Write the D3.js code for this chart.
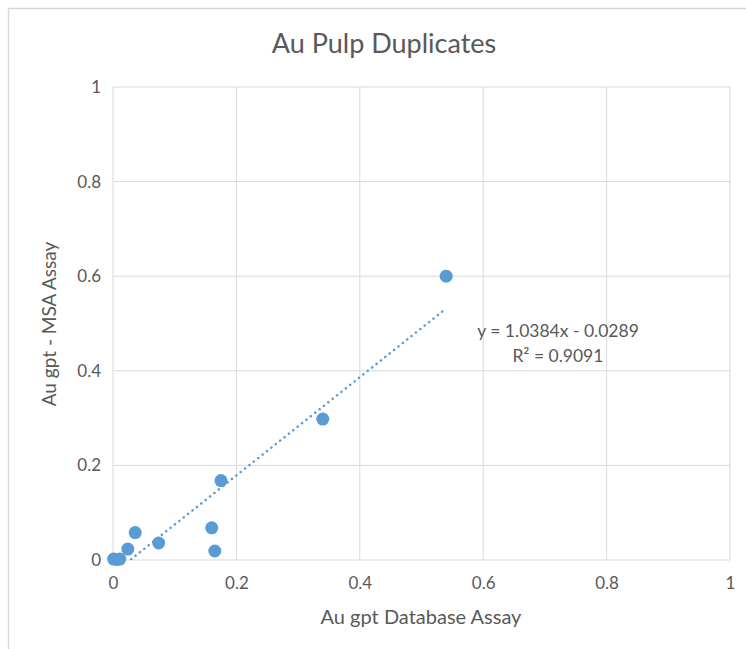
<!DOCTYPE html>
<html>
<head>
<meta charset="utf-8">
<script src="https://cdn.jsdelivr.net/npm/d3@7"></script>
<style>
  body { margin: 0; background: #fff; }
  text { font-family: Lato, "Open Sans", sans-serif; fill: #595959; }
</style>
</head>
<body>
<svg id="chart" width="746" height="649"></svg>
<script>
// sample pairs
const dbAssay  = [0.001, 0.006, 0.011, 0.024, 0.036, 0.074, 0.160, 0.165, 0.175, 0.340, 0.540];
const msaAssay = [0.002, 0.001, 0.002, 0.023, 0.058, 0.036, 0.068, 0.019, 0.168, 0.298, 0.600];
const ticks = [0, 0.2, 0.4, 0.6, 0.8, 1];
// linear trend shown on the chart
const slope = 1.0384, intercept = -0.0289;
const trendLabel = ['y = 1.0384x - 0.0289', 'R² = 0.9091'];

const points = dbAssay.map((d, i) => ({ x: d, y: msaAssay[i] }));

const svg = d3.select('#chart');
const plot = { left: 113, right: 730, top: 87, bottom: 560 };

// chart frame
svg.append('rect')
  .attr('x', 8.5).attr('y', 8.5)
  .attr('width', 760).attr('height', 660)
  .attr('fill', '#fff')
  .attr('stroke', '#d9d9d9').attr('stroke-width', 1.5);

const x = d3.scaleLinear().domain([0, 1]).range([plot.left, plot.right]);
const y = d3.scaleLinear().domain([0, 1]).range([plot.bottom, plot.top]);

// gridlines
const grid = svg.append('g').attr('stroke', '#d9d9d9').attr('stroke-width', 1);
ticks.forEach(t => {
  grid.append('line')
    .attr('x1', x(t)).attr('x2', x(t))
    .attr('y1', plot.top).attr('y2', plot.bottom);
  grid.append('line')
    .attr('x1', plot.left).attr('x2', plot.right)
    .attr('y1', y(t)).attr('y2', y(t));
});

// axes (labels only, Excel-style)
const xAxis = svg.append('g')
  .attr('transform', `translate(0,${plot.bottom})`)
  .call(d3.axisBottom(x).tickValues(ticks).tickSize(0).tickPadding(17).tickFormat(d3.format('~g')));
const yAxis = svg.append('g')
  .attr('transform', `translate(${plot.left},0)`)
  .call(d3.axisLeft(y).tickValues(ticks).tickSize(0).tickPadding(12).tickFormat(d3.format('~g')));
[xAxis, yAxis].forEach(a => {
  a.select('.domain').remove();
  a.selectAll('text').attr('font-size', 17).attr('fill', '#595959')
    .style('font-family', 'Lato, "Open Sans", sans-serif');
});

// trendline, clipped to the plot area
svg.append('clipPath').attr('id', 'clip')
  .append('rect')
  .attr('x', plot.left).attr('y', plot.top)
  .attr('width', plot.right - plot.left).attr('height', plot.bottom - plot.top);

const xMin = d3.min(dbAssay), xMax = d3.max(dbAssay);
svg.append('line')
  .attr('clip-path', 'url(#clip)')
  .attr('x1', x(xMin)).attr('y1', y(slope * xMin + intercept))
  .attr('x2', x(xMax)).attr('y2', y(slope * xMax + intercept))
  .attr('stroke', '#5b9bd5')
  .attr('stroke-width', 2.5)
  .attr('stroke-linecap', 'round')
  .attr('stroke-dasharray', '0.1 5.5');

// points
svg.append('g').selectAll('circle')
  .data(points)
  .join('circle')
  .attr('cx', d => x(d.x))
  .attr('cy', d => y(d.y))
  .attr('r', 6.5)
  .attr('fill', '#5b9bd5');

// equation label
svg.append('g').selectAll('text')
  .data(trendLabel)
  .join('text')
  .attr('x', 558)
  .attr('y', (d, i) => 337 + i * 25)
  .attr('text-anchor', 'middle')
  .attr('font-size', 17.5)
  .text(d => d);

// titles
svg.append('text')
  .attr('x', 384).attr('y', 53)
  .attr('text-anchor', 'middle')
  .attr('font-size', 27)
  .text('Au Pulp Duplicates');

svg.append('text')
  .attr('x', 421).attr('y', 624)
  .attr('text-anchor', 'middle')
  .attr('font-size', 20)
  .text('Au gpt Database Assay');

svg.append('text')
  .attr('transform', 'translate(56,324) rotate(-90)')
  .attr('text-anchor', 'middle')
  .attr('font-size', 19)
  .text('Au gpt - MSA Assay');
</script>
</body>
</html>
